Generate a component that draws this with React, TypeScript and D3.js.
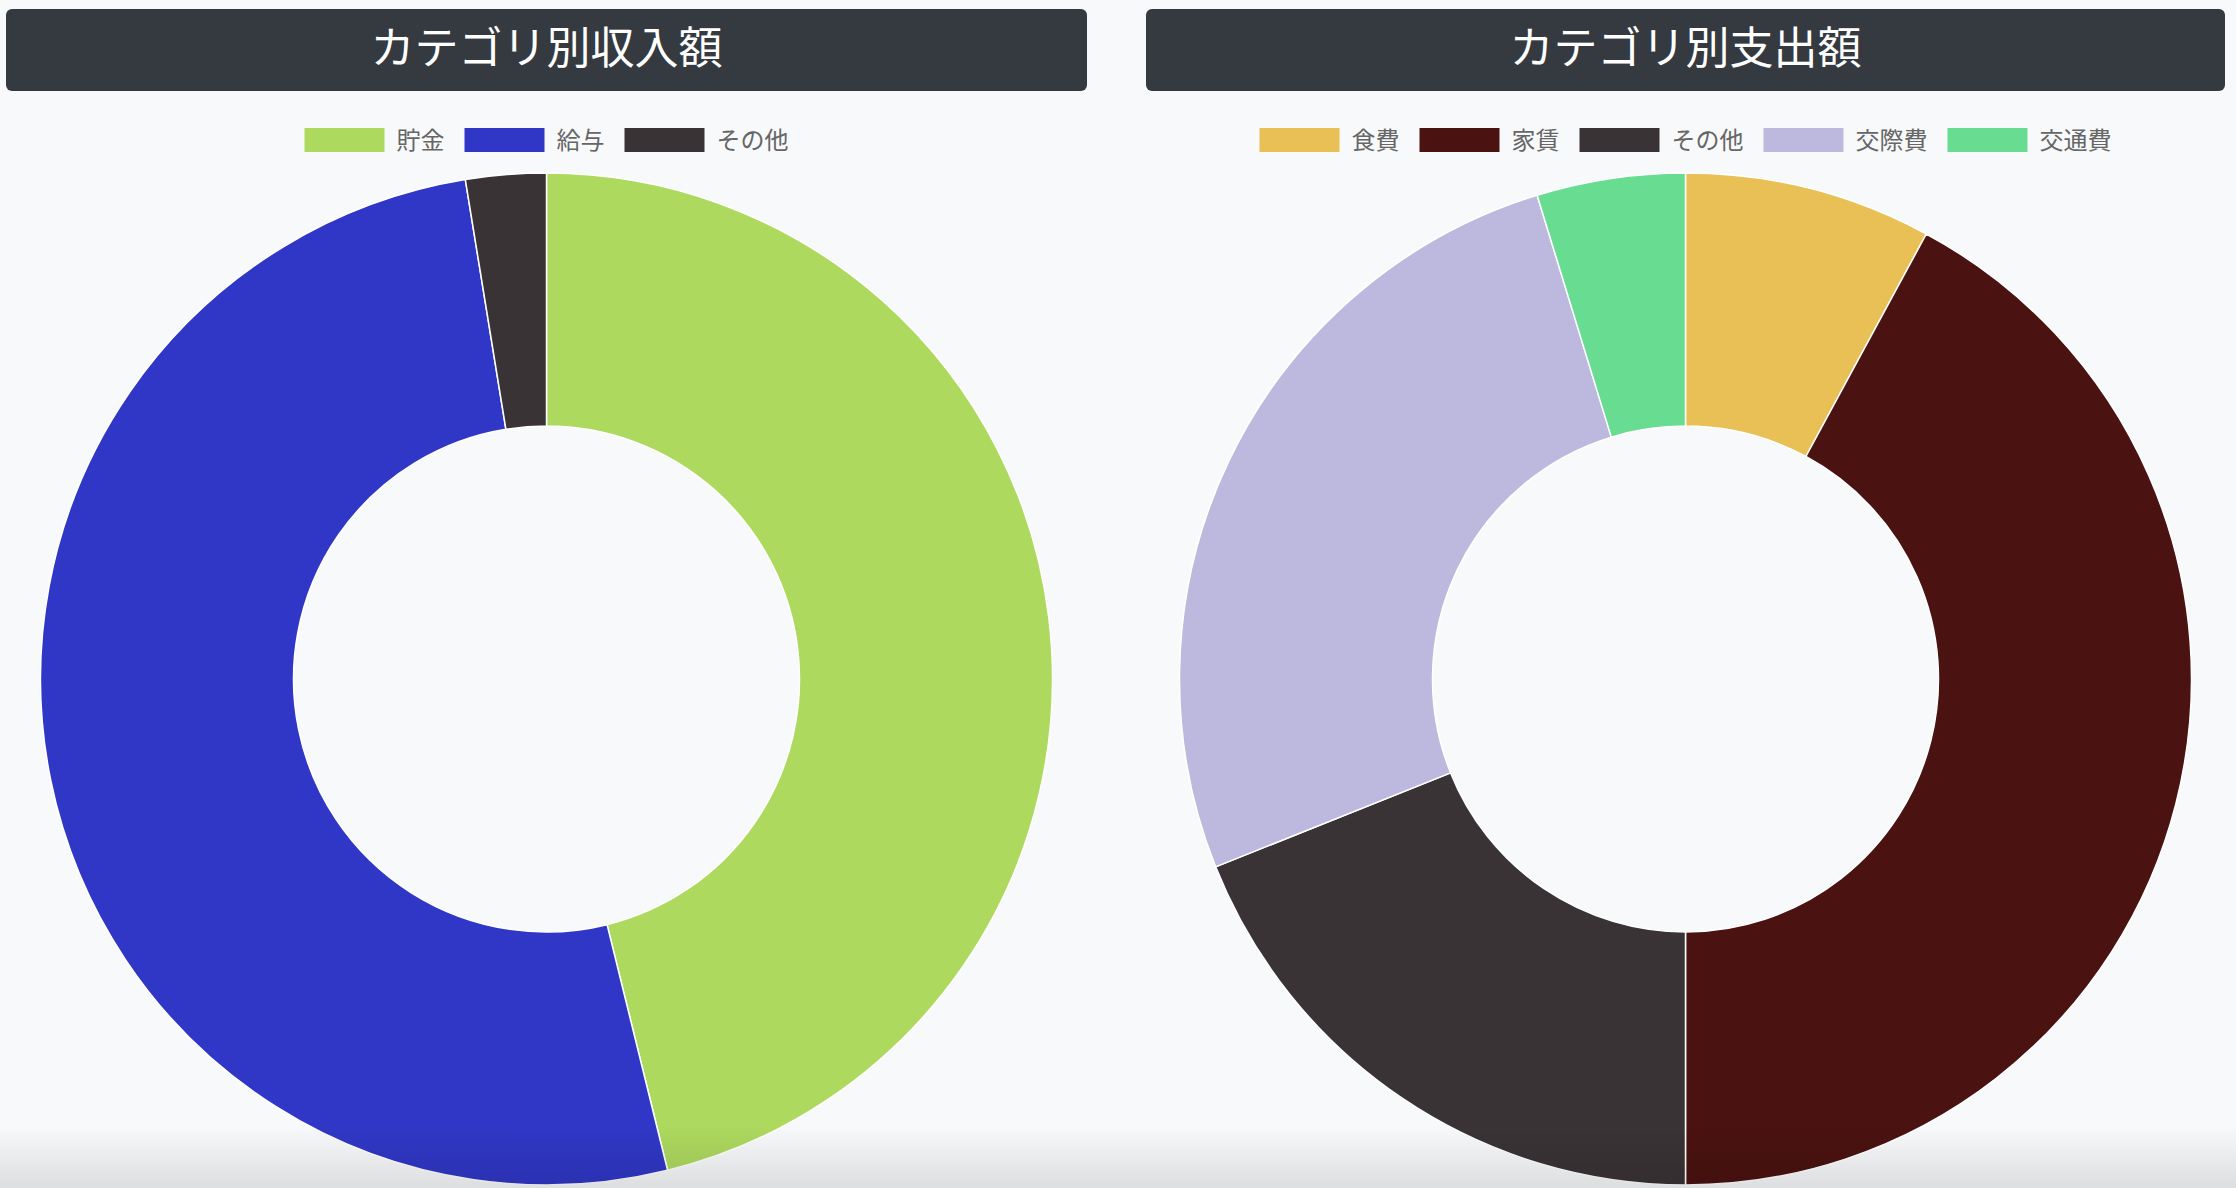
import React, { useRef, useEffect } from "react";
import * as d3 from "d3";

const incomeLabels = ["貯金", "給与", "その他"];
const incomeValues = [180000, 200000, 10000];
const incomeColors = ["#add95e", "#3037c6", "#3a3335"];

const expenseLabels = ["食費", "家賃", "その他", "交際費", "交通費"];
const expenseValues = [15000, 80000, 36000, 50000, 9000];
const expenseColors = ["#e8c055", "#4a1210", "#3a3335", "#bdb8dd", "#68dd92"];

const FONT = "'Noto Sans CJK JP', 'Noto Sans', sans-serif";

const App = () => {
  const ref = useRef<HTMLDivElement>(null);
  const width = 2236;
  const height = 1188;

  useEffect(() => {
    document.body.style.margin = "0";
    d3.select(ref.current).select("svg").remove();

    const svg = d3
      .select(ref.current)
      .append("svg")
      .attr("width", width)
      .attr("height", height)
      .style("display", "block")
      .style("font-family", FONT);

    svg.append("rect").attr("width", width).attr("height", height).attr("fill", "#f8f9fa");

    const panels = [
      { title: "カテゴリ別収入額", labels: incomeLabels, values: incomeValues, colors: incomeColors, x: 6, w: 1081 },
      { title: "カテゴリ別支出額", labels: expenseLabels, values: expenseValues, colors: expenseColors, x: 1146, w: 1079 },
    ];

    const outerR = 506;
    const innerR = outerR * 0.5;
    const cy = 679;

    panels.forEach((p) => {
      const g = svg.append("g");
      const cx = p.x + p.w / 2;

      // title bar
      g.append("rect")
        .attr("x", p.x)
        .attr("y", 9)
        .attr("width", p.w)
        .attr("height", 82)
        .attr("rx", 6)
        .attr("fill", "#343a40");
      g.append("text")
        .attr("x", cx)
        .attr("y", 45)
        .attr("text-anchor", "middle")
        .attr("dominant-baseline", "central")
        .attr("fill", "#fff")
        .style("font-size", "44px")
        .text(p.title);

      // legend
      const boxW = 80;
      const boxH = 24;
      const fontSize = 24;
      const pad = 20;
      const legend = g.append("g");
      const items = legend
        .selectAll("g.item")
        .data(p.labels)
        .join("g")
        .attr("class", "item");
      items
        .append("text")
        .attr("x", boxW + fontSize / 2)
        .attr("y", -2)
        .attr("dominant-baseline", "central")
        .attr("fill", "#666")
        .style("font-size", `${fontSize}px`)
        .text((d) => d);
      items
        .append("rect")
        .attr("x", 0)
        .attr("y", -boxH / 2)
        .attr("width", boxW)
        .attr("height", boxH)
        .attr("fill", (_, i) => p.colors[i]);

      const widths: number[] = [];
      items.each(function () {
        const t = d3.select(this).select("text").node() as SVGTextElement;
        widths.push(boxW + fontSize / 2 + t.getComputedTextLength());
      });
      const total = d3.sum(widths) + pad * (widths.length - 1);
      let lx = cx - total / 2;
      items.attr("transform", (_, i) => {
        const x = lx;
        lx += widths[i] + pad;
        return `translate(${x},140)`;
      });

      // donut
      const pie = d3
        .pie<number>()
        .value((d) => d)
        .sort(null);
      const arc = d3.arc<d3.PieArcDatum<number>>().innerRadius(innerR).outerRadius(outerR);
      g.append("g")
        .attr("transform", `translate(${cx},${cy})`)
        .selectAll("path")
        .data(pie(p.values))
        .join("path")
        .attr("d", arc)
        .attr("fill", (_, i) => p.colors[i])
        .attr("stroke", "#fff")
        .attr("stroke-width", 1.5);
    });

    // bottom shade
    const defs = svg.append("defs");
    const grad = defs
      .append("linearGradient")
      .attr("id", "shade")
      .attr("x1", 0)
      .attr("y1", 0)
      .attr("x2", 0)
      .attr("y2", 1);
    grad.append("stop").attr("offset", "0%").attr("stop-color", "#000").attr("stop-opacity", 0);
    grad.append("stop").attr("offset", "100%").attr("stop-color", "#000").attr("stop-opacity", 0.11);
    svg
      .append("rect")
      .attr("x", 0)
      .attr("y", 1125)
      .attr("width", width)
      .attr("height", height - 1125)
      .attr("fill", "url(#shade)");
  }, []);

  return <div ref={ref} />;
};

export default App;
